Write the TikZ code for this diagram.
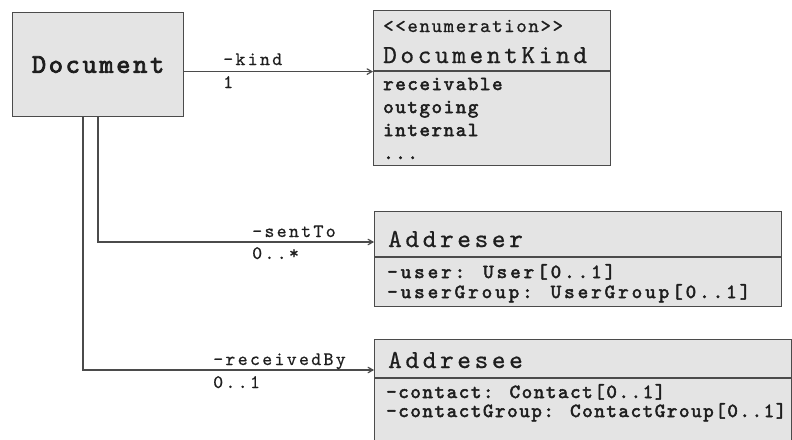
\documentclass[tikz,border=0pt]{standalone}
\usepackage{fontspec}
\usepackage{tikz}
\usetikzlibrary{arrows}
\newfontfamily\titlefont[LetterSpace=14,FakeBold=0.7,Ligatures=TeXOff]{lmmono10-regular.otf}
\newfontfamily\attrfont[LetterSpace=15,FakeBold=2.6,Ligatures=TeXOff]{lmmono10-regular.otf}
\newfontfamily\itemfont[LetterSpace=8,FakeBold=2.6,Ligatures=TeXOff]{lmmono10-regular.otf}
\newfontfamily\stereofont[LetterSpace=8,FakeBold=0.8,Ligatures=TeXOff]{lmmono10-regular.otf}
\newfontfamily\docfont[LetterSpace=10,FakeBold=3,Ligatures=TeXOff]{lmmono10-regular.otf}
\newfontfamily\rolefont[LetterSpace=12,FakeBold=0.6,Ligatures=TeXOff]{lmmono10-regular.otf}
\definecolor{umlfill}{RGB}{228,228,228}
\definecolor{umlline}{RGB}{75,75,75}
\definecolor{umltext}{RGB}{30,30,30}
\begin{document}
\begin{tikzpicture}[x=1pt,y=-1pt,
	classbox/.style={draw=umlline,fill=umlfill,line width=1.2pt,anchor=north west,inner sep=0pt},
	title/.style={anchor=base west,inner sep=0pt,text=umltext,font=\titlefont\fontsize{26}{26}\selectfont},
	attr/.style={anchor=base west,inner sep=0pt,text=umltext,font=\attrfont\fontsize{20}{20}\selectfont},
	item/.style={anchor=base west,inner sep=0pt,text=umltext,font=\itemfont\fontsize{20}{20}\selectfont},
	role/.style={anchor=base west,inner sep=0pt,text=umltext,font=\rolefont\fontsize{19}{19}\selectfont},
	sep/.style={draw=umlline,line width=1.2pt},
	assoc/.style={draw=umlline,line width=1.2pt,->,>=angle 60}]
	\useasboundingbox (0,0) rectangle (792,439);
	\node[classbox,minimum width=171pt,minimum height=104pt,text=umltext,font=\docfont\fontsize{27}{27}\selectfont] (Document) at (12,12) {Document};
	\node[classbox,minimum width=237pt,minimum height=155pt] (kindBox) at (373,10) {};
	\node[classbox,minimum width=407pt,minimum height=95pt] (addreser) at (374,211) {};
	\node[classbox,minimum width=417pt,minimum height=125pt] (addresee) at (374,339) {};
	\coordinate (kindSep) at (0,71);
	\coordinate (addreserSep) at (0,257);
	\coordinate (addreseeSep) at (0,378);
	\draw[sep] (kindBox.west |- kindSep) -- (kindBox.east |- kindSep);
	\draw[sep] (addreser.west |- addreserSep) -- (addreser.east |- addreserSep);
	\draw[sep] (addresee.west |- addreseeSep) -- (addresee.east |- addreseeSep);
	\node[item,font=\stereofont\fontsize{20}{20}\selectfont] (stereo) at (383,32) {<<enumeration>>};
	\node[title] (kindTitle) at (383,63) {DocumentKind};
	\node[item] (receivable) at (383,90) {receivable};
	\node[item] (outgoing) at (383,113) {outgoing};
	\node[item] (internal) at (383,136) {internal};
	\node[item] (more) at (383,159) {...};
	\node[title] (addreserTitle) at (388,247) {Addreser};
	\node[attr] (user) at (387,278) {-user: User[0..1]};
	\node[attr] (userGroup) at (387,298) {-userGroup: UserGroup[0..1]};
	\node[title] (addreseeTitle) at (388,368) {Addresee};
	\node[item] (contact) at (386,398) {-contact: Contact[0..1]};
	\node[item] (contactGroup) at (386,417) {-contactGroup: ContactGroup[0..1]};
	\coordinate (sentBend) at (98,242);
	\coordinate (recvBend) at (83,370);
	\draw[assoc] ([yshift=-7pt]Document.east) -- ([yshift=-7pt]Document.east -| kindBox.west);
	\draw[assoc] (Document.south -| sentBend) -- (sentBend) -- (sentBend -| addreser.west);
	\draw[assoc] (Document.south -| recvBend) -- (recvBend) -- (recvBend -| addresee.west);
	\node[role] (kindRole) at (223,65) {-kind};
	\node[role] (kindMult) at (223,88) {1};
	\node[role] (sentRole) at (252,237) {-sentTo};
	\node[role] (sentMult) at (252,259) {0..*};
	\node[role] (recvRole) at (213,365) {-receivedBy};
	\node[role] (recvMult) at (213,388) {0..1};
\end{tikzpicture}
\end{document}
